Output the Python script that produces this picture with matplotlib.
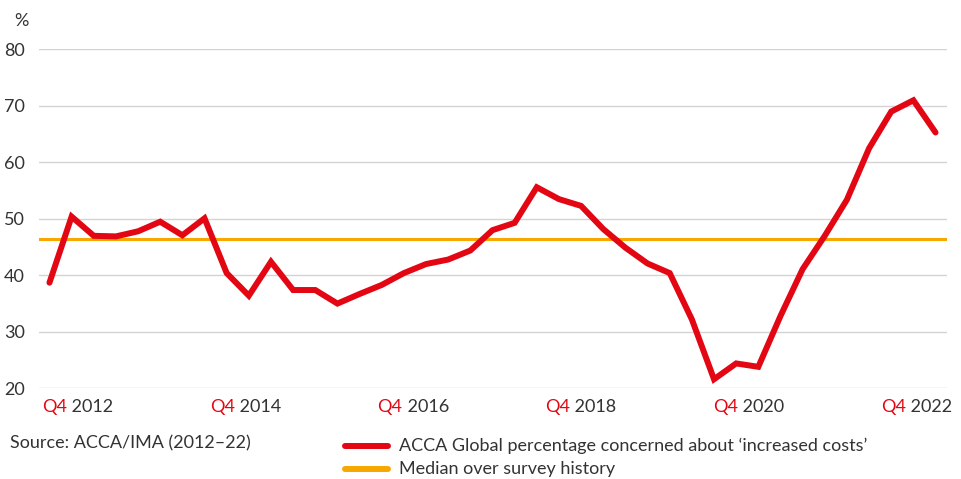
import matplotlib
matplotlib.use('Agg')
import matplotlib.pyplot as plt
import matplotlib.transforms as mtransforms
import numpy as np

# quarterly survey values, Q4 2012 .. Q4 2022
costs = [38.7, 50.4, 47.0, 46.9, 47.8, 49.5, 47.1, 50.1,
         40.4, 36.4, 42.4, 37.4, 37.4, 35.0, 36.7, 38.3,
         40.4, 42.0, 42.8, 44.4, 48.0, 49.3, 55.6, 53.5,
         52.3, 48.2, 44.9, 42.1, 40.4, 32.2, 21.6, 24.4,
         23.8, 32.8, 41.1, 47.0, 53.4, 62.5, 69.0, 71.0, 65.3]
median = 46.4
yticks = [20, 30, 40, 50, 60, 70, 80]
years = ['2012', '2014', '2016', '2018', '2020', '2022']

RED = '#e30613'
ORANGE = '#f7a800'
DARK = '#333333'
FS = 13
plt.rcParams['font.family'] = ['Lato', 'DejaVu Sans']

fig = plt.figure(figsize=(9.62, 4.79), dpi=100)
ax = fig.add_axes([0.0405, 0.1894, 0.9435, 0.7073])

x = np.arange(len(costs))
ax.plot(x, costs, color=RED, lw=4.3, solid_joinstyle='miter', solid_capstyle='round', zorder=3)
ax.axhline(median, color=ORANGE, lw=2.2, zorder=2)

ax.set_xlim(-0.474, 40.5)
ax.set_ylim(20, 80)
ax.set_yticks(yticks)
ax.grid(axis='y', color='#d3d3d3', lw=1)
ax.set_axisbelow(True)
for s in ax.spines.values():
    s.set_visible(False)
ax.tick_params(axis='y', length=0, pad=10, labelsize=FS, labelcolor=DARK)
ax.tick_params(axis='x', length=0)
ax.set_xticks([])

# x labels: red "Q4" + dark year
trans = mtransforms.blended_transform_factory(ax.transData, ax.transAxes)
label_pos = np.linspace(0.80, 38.65, len(years))
for p, yr in zip(label_pos, years):
    ax.text(p, -0.033, 'Q4', color=RED, fontsize=FS, ha='right', va='top', transform=trans)
    ax.text(p, -0.033, ' ' + yr, color=DARK, fontsize=FS, ha='left', va='top', transform=trans)

fig.text(0.0145, 0.957, '%', color=DARK, fontsize=FS, va='center', ha='left')
fig.text(0.0104, 0.075, 'Source: ACCA/IMA (2012\u201322)', color=DARK, fontsize=FS, va='center', ha='left')

# legend drawn by hand
fig.add_artist(plt.Line2D([0.359, 0.403], [0.069, 0.069], color=RED, lw=4.3, solid_capstyle='round'))
fig.add_artist(plt.Line2D([0.359, 0.403], [0.021, 0.021], color=ORANGE, lw=4.3, solid_capstyle='round'))
fig.text(0.415, 0.069, 'ACCA Global percentage concerned about \u2018increased costs\u2019',
         color=DARK, fontsize=FS, va='center', ha='left')
fig.text(0.415, 0.021, 'Median over survey history', color=DARK, fontsize=FS, va='center', ha='left')

fig.savefig('out.png', dpi=100)
